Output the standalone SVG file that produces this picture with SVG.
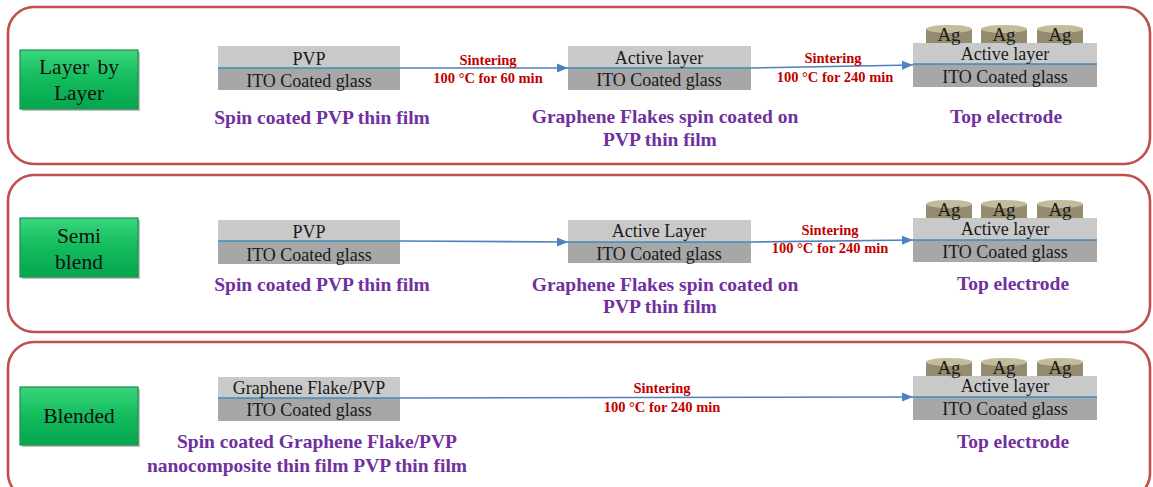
<svg xmlns="http://www.w3.org/2000/svg" width="1153" height="487" viewBox="0 0 1153 487" font-family="'Liberation Serif', 'Times New Roman', serif">
<style>
text{font-family:"Liberation Serif","Times New Roman",serif}
.panel{fill:#ffffff;stroke:#c0504d;stroke-width:2.6}
.gbox{fill:url(#gGreen);stroke:#1d8f4c;stroke-width:1.2}
.gshadow{fill:#000;opacity:0.25}
.gt{font-size:21.5px;fill:#111;text-anchor:middle}
.top{fill:#c9c9c9}
.bot{fill:#a7a7a7}
.mid{stroke:#3d8db8;stroke-width:1.6}
.st{font-size:18px;fill:#1a1a1a;text-anchor:middle}
.ag{font-size:19px;fill:#1a1a1a;text-anchor:middle}
.cap{font-size:19.5px;font-weight:bold;fill:#7030a0;text-anchor:middle}
.red{font-size:14.5px;font-weight:bold;fill:#c00000;text-anchor:middle}
.con{stroke:#4f81bd;stroke-width:1.6;fill:none;marker-end:url(#arr)}
</style>
<defs>
<linearGradient id="gGreen" x1="0" y1="0" x2="0" y2="1">
<stop offset="0" stop-color="#3ad57c"/>
<stop offset="0.5" stop-color="#12bb5c"/>
<stop offset="1" stop-color="#06a54f"/>
</linearGradient>
<marker id="arr" markerUnits="userSpaceOnUse" markerWidth="12" markerHeight="10" refX="11" refY="5" orient="auto">
<path d="M0,0.5 L11,5 L0,9.5 z" fill="#4f81bd"/>
</marker>
<g id="ag">
<rect x="0" y="4" width="46" height="14" fill="#958c70"/>
<ellipse cx="23" cy="4" rx="23" ry="4" fill="#c3bc9c"/>
<text x="23" y="16" class="ag">Ag</text>
</g>
</defs>

<g id="panels">
<rect class="panel" x="8" y="7" width="1142" height="157" rx="26"/>
<rect class="panel" x="8" y="175" width="1142" height="157" rx="26"/>
<rect class="panel" x="8" y="342" width="1142" height="157" rx="26"/>
</g>

<!-- Row 1 -->
<g id="label-layer">
<rect class="gshadow" x="22" y="52" width="118" height="59"/>
<rect class="gbox" x="20" y="50" width="118" height="59"/>
<text class="gt" x="79" y="74" word-spacing="3">Layer by</text>
<text class="gt" x="79" y="100">Layer</text>
</g>
<g id="r1-pvp">
<rect class="top" x="218" y="46" width="182" height="22"/>
<rect class="bot" x="218" y="68" width="182" height="22"/>
<line class="mid" x1="218" y1="68" x2="400" y2="68"/>
<text class="st" x="309" y="65">PVP</text>
<text class="st" x="309" y="87">ITO Coated glass</text>
<text class="cap" x="322" y="124">Spin coated PVP thin film</text>
</g>
<g id="r1-active">
<rect class="top" x="568" y="46" width="183" height="22"/>
<rect class="bot" x="568" y="68" width="183" height="22"/>
<line class="mid" x1="568" y1="68" x2="751" y2="68"/>
<text class="st" x="659" y="64">Active layer</text>
<text class="st" x="659" y="86">ITO Coated glass</text>
<text class="cap" x="665" y="123">Graphene Flakes spin coated on</text>
<text class="cap" x="660" y="146">PVP thin film</text>
</g>
<g id="r1-top">
<rect class="top" x="913" y="43" width="184" height="21"/>
<rect class="bot" x="913" y="64" width="184" height="23"/>
<line class="mid" x1="913" y1="64" x2="1097" y2="64"/>
<use href="#ag" x="926" y="25"/>
<use href="#ag" x="981" y="25"/>
<use href="#ag" x="1037" y="25"/>
<text class="st" x="1005" y="60">Active layer</text>
<text class="st" x="1005" y="83">ITO Coated glass</text>
<text class="cap" x="1006" y="123">Top electrode</text>
</g>

<!-- Row 2 -->
<g id="label-semi">
<rect class="gshadow" x="22" y="220" width="118" height="59"/>
<rect class="gbox" x="20" y="218" width="118" height="59"/>
<text class="gt" x="79" y="243">Semi</text>
<text class="gt" x="79" y="269">blend</text>
</g>
<g id="r2-pvp">
<rect class="top" x="218" y="220" width="182" height="21"/>
<rect class="bot" x="218" y="241" width="182" height="23"/>
<line class="mid" x1="218" y1="241" x2="400" y2="241"/>
<text class="st" x="309" y="238">PVP</text>
<text class="st" x="309" y="261">ITO Coated glass</text>
<text class="cap" x="322" y="291">Spin coated PVP thin film</text>
</g>
<g id="r2-active">
<rect class="top" x="568" y="220" width="183" height="22"/>
<rect class="bot" x="568" y="242" width="183" height="21"/>
<line class="mid" x1="568" y1="242" x2="751" y2="242"/>
<text class="st" x="659" y="237">Active Layer</text>
<text class="st" x="659" y="260">ITO Coated glass</text>
<text class="cap" x="665" y="291">Graphene Flakes spin coated on</text>
<text class="cap" x="660" y="313">PVP thin film</text>
</g>
<g id="r2-top">
<rect class="top" x="913" y="218" width="184" height="22"/>
<rect class="bot" x="913" y="240" width="184" height="22"/>
<line class="mid" x1="913" y1="240" x2="1097" y2="240"/>
<use href="#ag" x="926" y="200"/>
<use href="#ag" x="981" y="200"/>
<use href="#ag" x="1037" y="200"/>
<text class="st" x="1005" y="235">Active layer</text>
<text class="st" x="1005" y="258">ITO Coated glass</text>
<text class="cap" x="1013" y="290">Top electrode</text>
</g>

<!-- Row 3 -->
<g id="label-blended">
<rect class="gshadow" x="22" y="389" width="118" height="58"/>
<rect class="gbox" x="20" y="387" width="118" height="58"/>
<text class="gt" x="79" y="423">Blended</text>
</g>
<g id="r3-blend">
<rect class="top" x="218" y="377" width="182" height="21"/>
<rect class="bot" x="218" y="398" width="182" height="23"/>
<line class="mid" x1="218" y1="398" x2="400" y2="398"/>
<text class="st" x="309" y="394">Graphene Flake/PVP</text>
<text class="st" x="309" y="416">ITO Coated glass</text>
<text class="cap" x="317" y="448">Spin coated Graphene Flake/PVP</text>
<text class="cap" x="307" y="472">nanocomposite thin film PVP thin film</text>
</g>
<g id="r3-top">
<rect class="top" x="913" y="376" width="184" height="21"/>
<rect class="bot" x="913" y="397" width="184" height="23"/>
<line class="mid" x1="913" y1="397" x2="1097" y2="397"/>
<use href="#ag" x="926" y="358"/>
<use href="#ag" x="981" y="358"/>
<use href="#ag" x="1037" y="358"/>
<text class="st" x="1005" y="392">Active layer</text>
<text class="st" x="1005" y="415">ITO Coated glass</text>
<text class="cap" x="1013" y="448">Top electrode</text>
</g>

<g id="connectors">
<line class="con" x1="400" y1="68" x2="568" y2="68"/>
<text class="red" x="488" y="65">Sintering</text>
<text class="red" x="488" y="83">100 °C for 60 min</text>
<line class="con" x1="751" y1="68" x2="913" y2="65"/>
<text class="red" x="833" y="63">Sintering</text>
<text class="red" x="835" y="82">100 °C for 240 min</text>

<line class="con" x1="400" y1="241" x2="568" y2="242"/>
<line class="con" x1="751" y1="242" x2="913" y2="240"/>
<text class="red" x="830" y="235">Sintering</text>
<text class="red" x="830" y="253">100 °C for 240 min</text>

<line class="con" x1="400" y1="398" x2="913" y2="397"/>
<text class="red" x="662" y="393">Sintering</text>
<text class="red" x="662" y="412">100 °C for 240 min</text>
</g>
</svg>
